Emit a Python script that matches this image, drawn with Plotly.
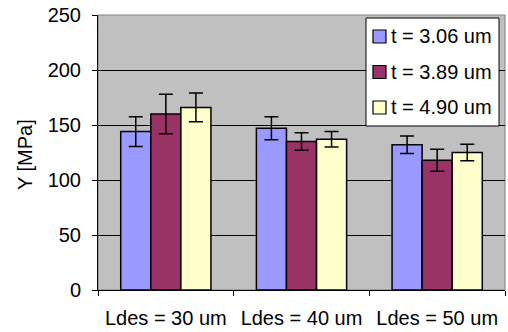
import plotly.graph_objects as go

categories = ["Ldes = 30 um", "Ldes = 40 um", "Ldes = 50 um"]
series_names = ["t = 3.06 um", "t = 3.89 um", "t = 4.90 um"]
values_306 = [144, 147, 132]
values_389 = [160, 135, 118]
values_490 = [166, 137, 125]
err_306 = [13.5, 10.5, 8]
err_389 = [18, 8, 10]
err_490 = [13, 7, 7.5]
colors = ["#9999FF", "#993366", "#FFFFCC"]
y_ticks = [0, 50, 100, 150, 200, 250]
y_title = "Y [MPa]"

font = "Liberation Sans, Arial, sans-serif"
FS = 20
W, H = 508, 332
SL, SR, ST, SB = 98, 505, 15, 290
ML, MT, MR, MB = SL, ST, W - SR, H - SB
PW, PH = SR - SL, SB - ST

def px_x(x):
    return (x - SL) / PW

def px_y(y):
    return (SB - y) / PH

fig = go.Figure()
for i, (name, vals, errs) in enumerate(zip(series_names, [values_306, values_389, values_490],
                                            [err_306, err_389, err_490])):
    fig.add_trace(go.Bar(
        x=categories, y=vals, name=name, showlegend=False,
        marker=dict(color=colors[i], line=dict(color="black", width=1.5)),
        error_y=dict(type="data", array=errs, color="black", thickness=1.5, width=7),
    ))

shapes = [dict(type="rect", xref="paper", yref="paper", x0=0, x1=1, y0=0, y1=1,
               line=dict(color="#808080", width=1), layer="below"),
          dict(type="rect", xref="paper", yref="paper",
               x0=px_x(366), x1=px_x(499), y0=px_y(126), y1=px_y(18),
               fillcolor="white", line=dict(color="black", width=1), layer="above")]
annotations = [dict(x=px_x(25), y=px_y(155), xref="paper", yref="paper", text=y_title,
                    showarrow=False, textangle=-90, xanchor="center", yanchor="middle",
                    font=dict(size=FS, family=font, color="black"))]
row_y = [36.5, 72, 107.5]
for i, name in enumerate(series_names):
    cy = row_y[i]
    shapes.append(dict(type="rect", xref="paper", yref="paper",
                       x0=px_x(373), x1=px_x(386), y0=px_y(cy + 6.5), y1=px_y(cy - 6.5),
                       fillcolor=colors[i], line=dict(color="black", width=1.2), layer="above"))
    annotations.append(dict(x=px_x(389), y=px_y(cy), xref="paper", yref="paper",
                            text=name, showarrow=False, xanchor="left", yanchor="middle",
                            font=dict(size=FS, family=font, color="black")))

fig.update_layout(
    width=W, height=H,
    margin=dict(l=ML, r=MR, t=MT, b=MB, pad=0),
    paper_bgcolor="white", plot_bgcolor="#C0C0C0",
    barmode="group", bargap=0.335, bargroupgap=0,
    font=dict(family=font, size=FS, color="black"),
    showlegend=False,
    yaxis=dict(range=[0, 250], tickvals=y_ticks, showgrid=True, gridcolor="black",
               gridwidth=1, showline=True, linecolor="black", linewidth=1,
               ticks="outside", ticklen=5, tickcolor="black", automargin=False,
               ticklabelstandoff=7, zeroline=False),
    xaxis=dict(showline=True, linecolor="black", linewidth=1, ticks="outside",
               tickson="boundaries", ticklen=5, tickcolor="black", showgrid=False,
               automargin=False, tickfont=dict(size=FS), ticklabelstandoff=10),
    shapes=shapes, annotations=annotations,
)

fig.write_html("out.html", config={"displayModeBar": False},
               post_script="document.body.style.margin='0';document.body.style.overflow='hidden';")
